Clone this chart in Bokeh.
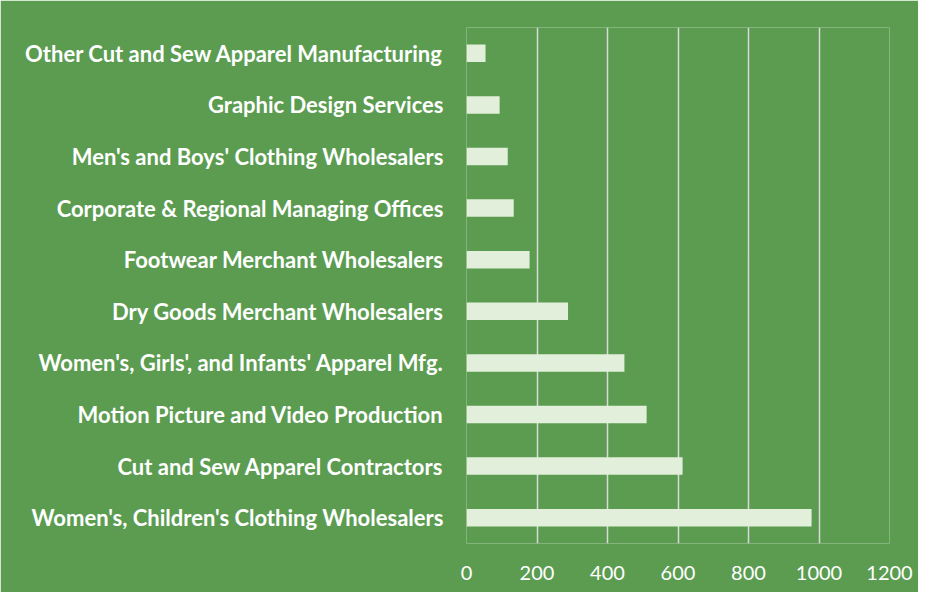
from bokeh.plotting import figure
from bokeh.models import FactorRange, Range1d, FixedTicker
from bokeh.embed import file_html
from bokeh.resources import INLINE

categories = [
    "Women's, Children's Clothing Wholesalers",
    "Cut and Sew Apparel Contractors",
    "Motion Picture and Video Production",
    "Women's, Girls', and Infants' Apparel Mfg.",
    "Dry Goods Merchant Wholesalers",
    "Footwear Merchant Wholesalers",
    "Corporate & Regional Managing Offices",
    "Men's and Boys' Clothing Wholesalers",
    "Graphic Design Services",
    "Other Cut and Sew Apparel Manufacturing",
]
values = [979, 613, 511, 448, 288, 179, 134, 117, 94, 54]
x_ticks = [0, 200, 400, 600, 800, 1000, 1200]

BG = "#5b9c51"
BAR = "#e2efda"
TXT = "#ffffff"

p = figure(
    width=918, height=592,
    y_range=FactorRange(factors=categories, range_padding=0),
    x_range=Range1d(0, 1200),
    output_backend="svg", toolbar_location=None,
    background_fill_color=BG, border_fill_color=BG,
    min_border_left=466, min_border_right=29, min_border_top=27, min_border_bottom=49,
)
p.outline_line_color = None

p.hbar(y=categories, right=values, left=0, height=0.34,
       fill_color=BAR, line_color=None)

p.xaxis.ticker = FixedTicker(ticks=x_ticks)
p.xaxis.axis_line_color = None
p.xaxis.major_tick_line_color = None
p.xaxis.minor_tick_line_color = None
p.xaxis.major_label_text_color = TXT
p.xaxis.major_label_text_font = "Lato"
p.xaxis.major_label_text_font_size = "20px"
p.xaxis.major_label_standoff = 16

p.yaxis.axis_line_color = None
p.yaxis.major_tick_line_color = None
p.yaxis.minor_tick_line_color = None
p.yaxis.major_label_text_color = TXT
p.yaxis.major_label_text_font = "Lato"
p.yaxis.major_label_text_font_style = "bold"
p.yaxis.major_label_text_font_size = "22px"
p.yaxis.major_label_standoff = 17

p.xgrid.grid_line_color = "#d9d9d9"
p.xgrid.grid_line_width = 1.5
p.ygrid.grid_line_color = None

open("out.html", "w").write(file_html(p, INLINE))
